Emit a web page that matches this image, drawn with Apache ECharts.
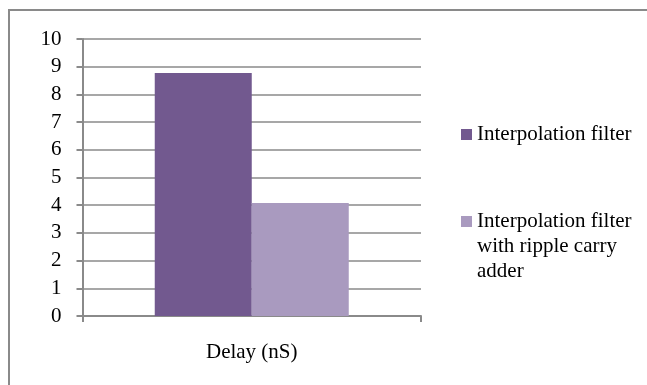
<!DOCTYPE html>
<html>
<head>
<meta charset="utf-8">
<script src="https://cdn.jsdelivr.net/npm/echarts@6/dist/echarts.min.js"></script>
<style>html,body{margin:0;padding:0;background:#fff;}#c{width:647px;height:385px;}</style>
</head>
<body>
<div id="c"></div>
<script>
var categories = ['Delay (nS)'];
var seriesNames = ['Interpolation filter', 'Interpolation filter with ripple carry adder'];
var interpolationFilter = [8.77];
var rippleCarryFilter = [4.08];
var yTicks = [0, 1, 2, 3, 4, 5, 6, 7, 8, 9, 10];

var FONT = "'Liberation Serif', 'Times New Roman', serif";
var chart = echarts.init(document.getElementById('c'), null, {renderer: 'canvas'});
chart.setOption({
  animation: false,
  backgroundColor: '#fff',
  graphic: [{
    type: 'rect',
    shape: {x: 9, y: 10, width: 700, height: 400},
    style: {fill: 'none', stroke: '#8a8a8a', lineWidth: 2},
    silent: true
  }],
  grid: {left: 82.5, right: 226, top: 39, bottom: 69, containLabel: false},
  legend: [{
    orient: 'vertical',
    left: 461,
    top: 122,
    padding: 0,
    itemWidth: 11,
    itemHeight: 11,
    icon: 'rect',
    data: [seriesNames[0]],
    textStyle: {fontFamily: FONT, fontSize: 21, color: '#000', lineHeight: 25}
  }, {
    orient: 'vertical',
    left: 461,
    top: 159,
    padding: 0,
    itemWidth: 11,
    itemHeight: 11,
    icon: 'rect',
    data: [seriesNames[1]],
    formatter: function () { return '\n\nInterpolation filter\nwith ripple carry\nadder'; },
    textStyle: {fontFamily: FONT, fontSize: 21, color: '#000', lineHeight: 25}
  }],
  xAxis: {
    type: 'category',
    data: categories,
    axisLine: {show: true, lineStyle: {color: '#8a8a8a', width: 2}},
    axisTick: {show: true, length: 6, lineStyle: {color: '#8a8a8a', width: 2}},
    axisLabel: {fontFamily: FONT, fontSize: 21, color: '#000', margin: 26}
  },
  yAxis: {
    type: 'value',
    min: yTicks[0],
    max: yTicks[yTicks.length - 1],
    interval: 1,
    axisLine: {show: true, lineStyle: {color: '#8a8a8a', width: 2}},
    axisTick: {show: true, length: 6, lineStyle: {color: '#8a8a8a', width: 2}},
    axisLabel: {fontFamily: FONT, fontSize: 21, color: '#000', margin: 21},
    splitLine: {show: true, lineStyle: {color: '#8a8a8a', width: 1.5}}
  },
  series: [{
    name: seriesNames[0],
    type: 'bar',
    data: interpolationFilter,
    barWidth: 97,
    barGap: '0%',
    itemStyle: {color: '#72598F'}
  }, {
    name: seriesNames[1],
    type: 'bar',
    data: rippleCarryFilter,
    barWidth: 97,
    barGap: '0%',
    itemStyle: {color: '#A99ABF'}
  }]
});
</script>
</body>
</html>
